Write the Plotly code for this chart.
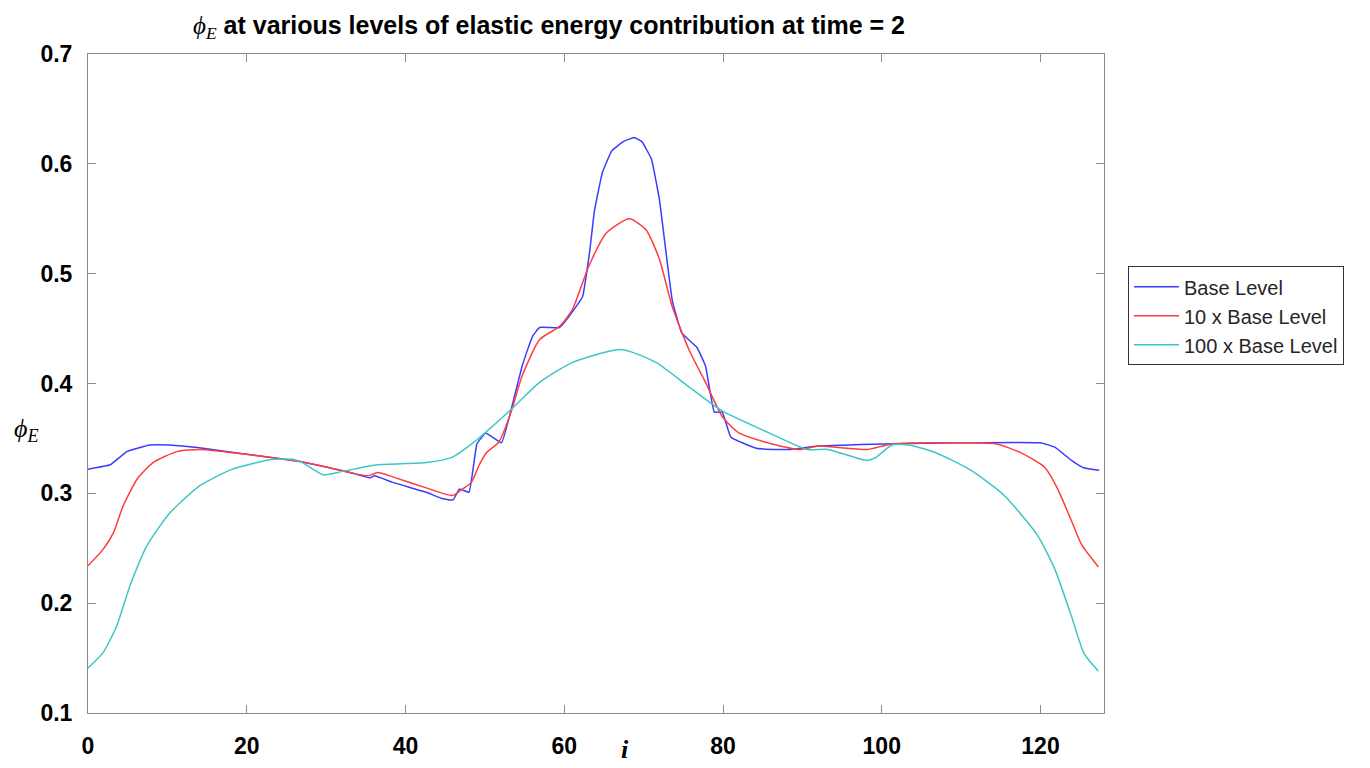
import plotly.graph_objects as go

# Base Level
base_x = [0, 2.8, 4.9, 7.8, 10.3, 14.5, 19.5, 23.8, 26.7, 30, 33, 35.5, 36.1, 38.4, 42.6, 44.7, 46,
          46.8, 48, 49, 50.1, 52.1, 53.3, 54.7, 56, 56.9, 59.4, 60.6, 62.3, 63.2, 63.8, 64.8, 66,
          67.4, 68.8, 69.8, 71, 72, 73.6, 74.8, 76.7, 77.8, 78.9, 79.9, 81, 84.2, 86.2, 88.5, 92,
          100.4, 110, 120, 121.8, 123.9, 125.5, 127.4]
base_y = [0.322, 0.326, 0.338, 0.344, 0.344, 0.341, 0.336, 0.332, 0.329, 0.324, 0.319, 0.314, 0.316,
          0.310, 0.301, 0.295, 0.294, 0.304, 0.301, 0.345, 0.355, 0.346, 0.376, 0.416, 0.443, 0.451,
          0.451, 0.461, 0.479, 0.520, 0.557, 0.592, 0.612, 0.620, 0.624, 0.620, 0.604, 0.567, 0.476,
          0.446, 0.433, 0.416, 0.374, 0.374, 0.351, 0.341, 0.340, 0.340, 0.343, 0.345, 0.346, 0.346,
          0.342, 0.330, 0.323, 0.321]

# 10 x Base Level
ten_x = [0, 1.9, 3.2, 4.4, 6.2, 8.2, 11.2, 14.1, 19.5, 23.8, 26.7, 30, 33, 35.3, 36.5, 38.4, 42.6,
         45.9, 47.2, 48.3, 49.3, 50.2, 51.8, 53.3, 54.7, 56.9, 59.4, 61, 63.1, 65.3, 68.2, 70.3, 72,
         73.6, 75.7, 77.8, 79.9, 82, 86.2, 89.8, 92, 98.2, 101.3, 111, 114.5, 117.5, 120.5, 122.1,
         123.9, 125.2, 127.3]
ten_y = [0.234, 0.249, 0.264, 0.288, 0.313, 0.328, 0.338, 0.340, 0.336, 0.332, 0.329, 0.324, 0.319,
         0.316, 0.319, 0.315, 0.305, 0.298, 0.304, 0.310, 0.326, 0.337, 0.347, 0.374, 0.407, 0.440,
         0.452, 0.467, 0.507, 0.537, 0.550, 0.540, 0.513, 0.470, 0.431, 0.401, 0.370, 0.355, 0.345,
         0.340, 0.343, 0.340, 0.345, 0.346, 0.345, 0.337, 0.324, 0.305, 0.275, 0.253, 0.233]

# 100 x Base Level
hund_x = [0, 1.9, 3.6, 5.3, 7.4, 10.3, 14.1, 18.2, 23.3, 25.8, 27, 29.6, 32.1, 36.4, 42.6, 45.9,
          48.5, 53.1, 56.9, 61, 67.2, 71.6, 75.7, 79.9, 85.5, 90.6, 93.2, 98.1, 99.1, 101.3, 103.4,
          106.8, 111, 115.3, 119.6, 121.8, 123.9, 125.5, 127.3]
hund_y = [0.141, 0.155, 0.179, 0.216, 0.252, 0.282, 0.307, 0.322, 0.331, 0.331, 0.328, 0.317, 0.320,
          0.326, 0.328, 0.333, 0.346, 0.375, 0.401, 0.419, 0.431, 0.419, 0.397, 0.375, 0.356, 0.340,
          0.340, 0.330, 0.332, 0.344, 0.344, 0.337, 0.322, 0.299, 0.262, 0.231, 0.188, 0.154, 0.138]

series_names = ["Base Level", "10 x Base Level", "100 x Base Level"]
x_ticks = [0, 20, 40, 60, 80, 100, 120]
y_ticks = [0.1, 0.2, 0.3, 0.4, 0.5, 0.6, 0.7]

fig = go.Figure()
fig.add_trace(go.Scatter(x=base_x, y=base_y, mode="lines", name=series_names[0],
                         line=dict(color="#3c3cff", width=1.5, shape="spline", smoothing=0.3)))
fig.add_trace(go.Scatter(x=ten_x, y=ten_y, mode="lines", name=series_names[1],
                         line=dict(color="#ff3c3c", width=1.5, shape="spline", smoothing=0.6)))
fig.add_trace(go.Scatter(x=hund_x, y=hund_y, mode="lines", name=series_names[2],
                         line=dict(color="#3cc6c6", width=1.5, shape="spline", smoothing=0.6)))

tick_font = dict(family="Liberation Sans, Arial, sans-serif", size=23, color="#000000")
axis_common = dict(showgrid=False, zeroline=False, showline=True, linecolor="#8a8a8a", linewidth=1,
                   mirror="ticks", ticks="inside", ticklen=8, tickcolor="#8a8a8a", tickwidth=1,
                   tickfont=tick_font)

fig.update_layout(
    width=1370, height=768,
    paper_bgcolor="white", plot_bgcolor="white",
    margin=dict(l=80, r=274, t=46, b=63),
    showlegend=True,
    legend=dict(x=1.0236, y=0.678, xanchor="left", yanchor="top",
                bgcolor="white", bordercolor="#333333", borderwidth=1,
                font=dict(family="Liberation Sans, Arial, sans-serif", size=20, color="#262626"),
                itemwidth=45, tracegroupgap=0),
    title=dict(
        text="<span style='font-family:Liberation Serif'><i>ϕ</i><sub><i>E</i></sub></span>"
             "<b> at various levels of elastic energy contribution at time = 2</b>",
        font=dict(family="Liberation Sans Narrow, Arial Narrow, Liberation Sans, sans-serif",
                  size=25, color="#000000"),
        x=541 / 1370, xref="container", xanchor="center",
        y=1 - 17 / 768, yref="container", yanchor="middle"),
)
fig.update_xaxes(range=[0, 128], tickvals=x_ticks, ticktext=[f"<b>{v}</b>" for v in x_ticks],
                 ticklabelstandoff=12, **axis_common)
fig.update_yaxes(range=[0.1, 0.7], tickvals=y_ticks, ticktext=[f"<b>{v:.1f}</b>" for v in y_ticks],
                 ticklabelstandoff=10, **axis_common)

fig.add_annotation(text="<i>ϕ</i><sub><i>E</i></sub>", xref="paper", yref="paper",
                   x=-62 / 1016, y=(713 - 430) / 659, xanchor="center", yanchor="middle",
                   showarrow=False, font=dict(family="Liberation Serif, serif", size=26, color="#000000"))
fig.add_annotation(text="<b><i>i</i></b>", xref="paper", yref="paper",
                   x=(625 - 88) / 1016, y=-36 / 659, xanchor="center", yanchor="middle",
                   showarrow=False, font=dict(family="Liberation Serif, serif", size=26, color="#000000"))

fig.write_html("out.html")
